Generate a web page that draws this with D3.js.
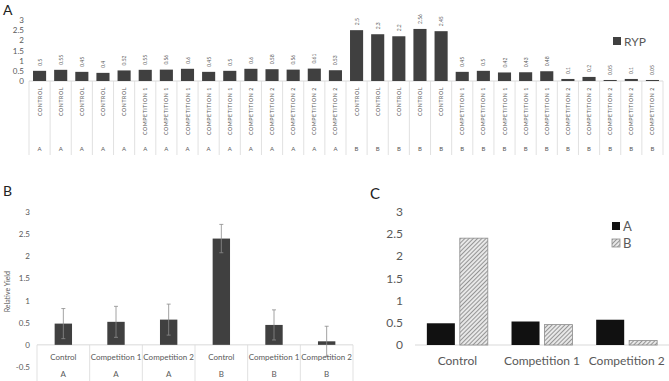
<!DOCTYPE html>
<html lang="en">
<head>
    <meta charset="UTF-8">
    <title>RYP panels</title>
    <script src="https://cdn.jsdelivr.net/npm/d3@7"></script>
    <style>
        body { margin: 0; background: #fff; }
        * { font-family: Lato, 'Open Sans', sans-serif; }
        svg { display: block; }
    </style>
</head>
<body>
<script>
    // panel A
    const treatA = ["Control", "Competition 1", "Competition 2", "Control", "Competition 1", "Competition 2"];
    const strainA = ["A", "A", "A", "B", "B", "B"];
    const valuesA = [
        0.5, 0.55, 0.45, 0.4, 0.52,
        0.55, 0.56, 0.6, 0.45, 0.5,
        0.6, 0.58, 0.56, 0.61, 0.53,
        2.5, 2.3, 2.2, 2.56, 2.45,
        0.45, 0.5, 0.42, 0.43, 0.48,
        0.1, 0.2, 0.05, 0.1, 0.05
    ];
    const ticksA = [0, 0.5, 1, 1.5, 2, 2.5, 3];

    // panel B
    const catsB = ["Control", "Competition 1", "Competition 2", "Control", "Competition 1", "Competition 2"];
    const groupsB = ["A", "A", "A", "B", "B", "B"];
    const meansB = [0.48, 0.52, 0.57, 2.4, 0.45, 0.08];
    const errB = [0.34, 0.35, 0.35, 0.32, 0.34, 0.34];
    const ticksB = [-0.5, 0, 0.5, 1, 1.5, 2, 2.5, 3];

    // panel C
    const catsC = ["Control", "Competition 1", "Competition 2"];
    const seriesC = ["A", "B"];
    const valA_C = [0.49, 0.53, 0.57];
    const valB_C = [2.41, 0.46, 0.1];
    const ticksC = [0, 0.5, 1, 1.5, 2, 2.5, 3];

    const grey = "#595959", barCol = "#404040", lineCol = "#d9d9d9";

    const svg = d3.select("body").append("svg").attr("width", 669).attr("height", 381);

    const defs = svg.append("defs");
    const pat = defs.append("pattern").attr("id", "hatch")
        .attr("patternUnits", "userSpaceOnUse").attr("width", 3).attr("height", 3)
        .attr("patternTransform", "rotate(45)");
    pat.append("rect").attr("width", 3).attr("height", 3).attr("fill", "#e8e8e8");
    pat.append("line").attr("x1", 0).attr("y1", 0).attr("x2", 0).attr("y2", 3)
        .attr("stroke", "#808080").attr("stroke-width", 1.6);

    // ---------- A ----------
    const idxA = d3.range(valuesA.length);
    const xA = d3.scaleBand().domain(idxA).range([29, 663]).paddingInner(0.38).paddingOuter(0.19);
    const yA = d3.scaleLinear().domain([0, 3]).range([81, 20]);
    const gA = svg.append("g");

    gA.append("text").attr("x", 3).attr("y", 15).attr("font-size", 14).attr("fill", "#222").text("A");

    gA.selectAll("text.ty").data(ticksA).join("text")
        .attr("x", 24).attr("y", d => yA(d) + 3)
        .attr("text-anchor", "end").attr("font-size", 8).attr("fill", grey).text(d => d);

    const stepA = xA.step();
    gA.selectAll("line.div").data(d3.range(valuesA.length + 1)).join("line")
        .attr("x1", i => 29 + i * stepA).attr("x2", i => 29 + i * stepA)
        .attr("y1", yA(0)).attr("y2", 155).attr("stroke", lineCol).attr("stroke-width", 0.8);
    gA.append("line").attr("x1", 29).attr("x2", 663).attr("y1", yA(0)).attr("y2", yA(0))
        .attr("stroke", lineCol).attr("stroke-width", 1);

    gA.selectAll("rect.bar").data(valuesA).join("rect")
        .attr("x", (d, i) => xA(i)).attr("width", xA.bandwidth())
        .attr("y", d => yA(d)).attr("height", d => yA(0) - yA(d)).attr("fill", barCol);

    gA.selectAll("text.val").data(valuesA).join("text")
        .attr("transform", (d, i) => `translate(${xA(i) + xA.bandwidth() / 2 + 2},${yA(d) - 5}) rotate(-90)`)
        .attr("font-size", 5).attr("fill", grey).text(d => d);

    gA.selectAll("text.cat").data(valuesA).join("text")
        .attr("transform", (d, i) => `translate(${xA(i) + xA.bandwidth() / 2 + 2},${yA(0) + 6}) rotate(-90)`)
        .attr("text-anchor", "end").attr("font-size", 5.3).attr("letter-spacing", 0.55).attr("fill", grey)
        .text((d, i) => treatA[Math.floor(i / 5)].toUpperCase());

    gA.selectAll("text.grp").data(valuesA).join("text")
        .attr("x", (d, i) => xA(i) + xA.bandwidth() / 2).attr("y", 151)
        .attr("text-anchor", "middle").attr("font-size", 6).attr("fill", grey)
        .text((d, i) => strainA[Math.floor(i / 5)]);

    gA.append("rect").attr("x", 613).attr("y", 37).attr("width", 8).attr("height", 8).attr("fill", barCol);
    gA.append("text").attr("x", 624).attr("y", 46).attr("font-size", 12).attr("fill", grey).text("RYP");

    // ---------- B ----------
    const idxB = d3.range(catsB.length);
    const xB = d3.scaleBand().domain(idxB).range([37, 353]).paddingInner(0.67).paddingOuter(0.335);
    const yB = d3.scaleLinear().domain([-0.5, 3]).range([367, 212]);
    const gB = svg.append("g");

    gB.append("text").attr("x", 3).attr("y", 196).attr("font-size", 14).attr("fill", "#222").text("B");

    gB.selectAll("text.ty").data(ticksB).join("text")
        .attr("x", 30).attr("y", d => yB(d) + 3)
        .attr("text-anchor", "end").attr("font-size", 8).attr("fill", grey).text(d => d);

    gB.append("text").attr("transform", `translate(10,${yB(1.2)}) rotate(-90)`)
        .attr("text-anchor", "middle").attr("font-size", 7).attr("fill", grey).text("Relative Yield");

    const stepB = xB.step();
    gB.selectAll("line.div").data(d3.range(catsB.length + 1)).join("line")
        .attr("x1", i => 37 + i * stepB).attr("x2", i => 37 + i * stepB)
        .attr("y1", yB(0)).attr("y2", 381).attr("stroke", lineCol).attr("stroke-width", 0.8);
    gB.append("line").attr("x1", 37).attr("x2", 353).attr("y1", yB(0)).attr("y2", yB(0))
        .attr("stroke", lineCol).attr("stroke-width", 1);

    gB.selectAll("rect.bar").data(meansB).join("rect")
        .attr("x", (d, i) => xB(i)).attr("width", xB.bandwidth())
        .attr("y", d => yB(d)).attr("height", d => yB(0) - yB(d)).attr("fill", barCol);

    const eb = gB.selectAll("g.err").data(meansB).join("g")
        .attr("transform", (d, i) => `translate(${xB(i) + xB.bandwidth() / 2},0)`);
    eb.append("line").attr("y1", (d, i) => yB(d - errB[i])).attr("y2", (d, i) => yB(d + errB[i]))
        .attr("stroke", "#8c8c8c").attr("stroke-width", 0.8);
    eb.append("line").attr("x1", -2).attr("x2", 2)
        .attr("y1", (d, i) => yB(d + errB[i])).attr("y2", (d, i) => yB(d + errB[i]))
        .attr("stroke", "#8c8c8c").attr("stroke-width", 0.8);
    eb.append("line").attr("x1", -2).attr("x2", 2)
        .attr("y1", (d, i) => yB(d - errB[i])).attr("y2", (d, i) => yB(d - errB[i]))
        .attr("stroke", "#8c8c8c").attr("stroke-width", 0.8);

    gB.selectAll("text.cat").data(catsB).join("text")
        .attr("x", (d, i) => xB(i) + xB.bandwidth() / 2).attr("y", 360)
        .attr("text-anchor", "middle").attr("font-size", 8).attr("fill", grey).text(d => d);
    gB.selectAll("text.grp").data(groupsB).join("text")
        .attr("x", (d, i) => xB(i) + xB.bandwidth() / 2).attr("y", 377)
        .attr("text-anchor", "middle").attr("font-size", 8).attr("fill", grey).text(d => d);

    // ---------- C ----------
    const x0 = d3.scaleBand().domain(catsC).range([415, 669]).paddingInner(0.28).paddingOuter(0.14);
    const x1 = d3.scaleBand().domain(seriesC).range([0, x0.bandwidth()]).paddingInner(0.15);
    const yC = d3.scaleLinear().domain([0, 3]).range([345, 212]);
    const gC = svg.append("g");

    gC.append("text").attr("x", 370).attr("y", 199).attr("font-size", 15).attr("fill", "#222").text("C");

    gC.selectAll("text.ty").data(ticksC).join("text")
        .attr("x", 403).attr("y", d => yC(d) + 4)
        .attr("text-anchor", "end").attr("font-size", 12).attr("fill", grey).text(d => d);

    gC.append("line").attr("x1", 415).attr("x2", 669).attr("y1", yC(0)).attr("y2", yC(0))
        .attr("stroke", lineCol).attr("stroke-width", 1);

    const tableC = catsC.map((c, i) => ({cat: c, vals: [{s: "A", v: valA_C[i]}, {s: "B", v: valB_C[i]}]}));
    const grpC = gC.selectAll("g.grp").data(tableC).join("g")
        .attr("transform", d => `translate(${x0(d.cat)},0)`);
    grpC.selectAll("rect").data(d => d.vals).join("rect")
        .attr("x", d => x1(d.s)).attr("width", x1.bandwidth())
        .attr("y", d => yC(d.v)).attr("height", d => yC(0) - yC(d.v))
        .attr("fill", d => d.s === "A" ? "#111" : "url(#hatch)")
        .attr("stroke", d => d.s === "A" ? "none" : "#8c8c8c").attr("stroke-width", 0.8);

    gC.selectAll("text.cat").data(catsC).join("text")
        .attr("x", d => x0(d) + x0.bandwidth() / 2).attr("y", 365)
        .attr("text-anchor", "middle").attr("font-size", 12).attr("fill", grey).text(d => d);

    const leg = gC.selectAll("g.leg").data(seriesC).join("g")
        .attr("transform", (d, i) => `translate(612,${222 + i * 17})`);
    leg.append("rect").attr("width", 8).attr("height", 8)
        .attr("fill", d => d === "A" ? "#111" : "url(#hatch)")
        .attr("stroke", d => d === "A" ? "none" : "#8c8c8c").attr("stroke-width", 0.8);
    leg.append("text").attr("x", 11).attr("y", 9).attr("font-size", 13).attr("fill", grey).text(d => d);
</script>
</body>
</html>
